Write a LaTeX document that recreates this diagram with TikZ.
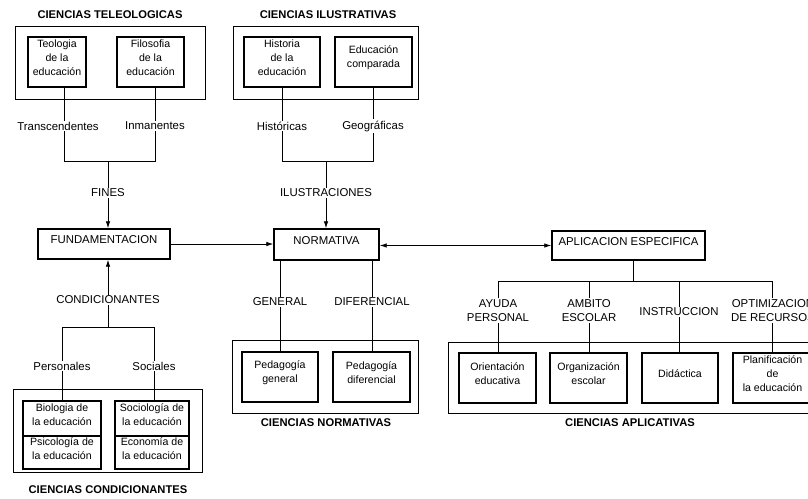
\documentclass[tikz,border=0pt]{standalone}
\usepackage{fontspec}
\setmainfont{Liberation Sans}
\usetikzlibrary{arrows.meta,fit}
\newcommand\fsn{\fontsize{11.4}{14.5}\selectfont}
\newcommand\fsx{\fontsize{10.6}{14}\selectfont}
\newcommand\fsb{\fontsize{11.2}{14}\selectfont\bfseries}
\begin{document}
\begin{tikzpicture}[x=1pt,y=-1pt,
  outerbox/.style={draw,line width=0.9pt,inner sep=0pt},
  innerbox/.style={draw,line width=1.6pt,inner sep=0pt,align=center,font=\fsx},
  mainbox/.style={draw,line width=1.4pt,inner sep=0pt,align=center,font=\fsn},
  lbl/.style={inner sep=1pt,align=center,font=\fsn},
  ttl/.style={inner sep=1pt,font=\fsb},
  conn/.style={line width=0.8pt},
  arr/.style={line width=0.8pt,-{Latex[length=7pt,width=4.5pt]}},
  darr/.style={line width=0.8pt,{Latex[length=7pt,width=4.5pt]}-{Latex[length=7pt,width=4.5pt]}}]
\useasboundingbox (0,0) rectangle (808,498);
\clip (0,0) rectangle (808,498);
\fill[white] (0,0) rectangle (808,498);

% ---------- Ciencias teleologicas ----------
\node[ttl] (t1) at (110,15) {CIENCIAS TELEOLOGICAS};
\node[outerbox,fit={(15,26) (205,99)}] (o1) {};
\node[innerbox,fit={(28,37) (86,87)}] (teo) {Teologia\\de la\\educación};
\node[innerbox,fit={(117,37) (184,87)}] (filo) {Filosofia\\de la\\educación};
\node[lbl] (trans) at (58,126) {Transcendentes};
\node[lbl] (inman) at (155,126) {Inmanentes};
\node[lbl] (fines) at (108,193) {FINES};
\coordinate (b1l) at (64,161);
\coordinate (b1r) at (155,161);
\coordinate (b1c) at (108,161);
\draw[conn] (teo.south -| b1l) -- (trans.north -| b1l);
\draw[conn] (filo.south -| b1r) -- (inman.north -| b1r);
\draw[conn] (trans.south -| b1l) -- (b1l) -- (b1r) -- (inman.south -| b1r);
\draw[conn] (b1c) -- (fines.north -| b1c);

% ---------- Fundamentacion ----------
\node[mainbox,fit={(38,229) (170,259)}] (fund) {FUNDAMENTACION};
\draw[arr] (fines.south -| b1c) -- (fund.north -| b1c);
\node[lbl] (cond) at (108,300) {CONDICIONANTES};
\draw[arr] (cond.north -| b1c) -- (fund.south -| b1c);
\coordinate (b3l) at (62,327);
\coordinate (b3r) at (154,327);
\coordinate (b3c) at (108,327);
\node[lbl] (pers) at (62,366) {Personales};
\node[lbl] (soc) at (154,366) {Sociales};
\draw[conn] (cond.south -| b3c) -- (b3c);
\draw[conn] (pers.north -| b3l) -- (b3l) -- (b3r) -- (soc.north -| b3r);

% ---------- Ciencias condicionantes ----------
\node[outerbox,fit={(13,389) (202,472)}] (o3) {};
\node[innerbox,fit={(23,401) (101,436)}] (bio) {Biologia de\\la educación};
\node[innerbox,fit={(23,436) (101,469)}] (psi) {Psicología de\\la educación};
\node[innerbox,fit={(115,401) (189,436)}] (socio) {Sociología de\\la educación};
\node[innerbox,fit={(115,436) (189,469)}] (eco) {Economía de\\la educación};
\draw[conn] (pers.south -| b3l) -- (bio.north -| b3l);
\draw[conn] (soc.south -| b3r) -- (socio.north -| b3r);
\node[ttl] (t3) at (108,490) {CIENCIAS CONDICIONANTES};

% ---------- Ciencias ilustrativas ----------
\node[ttl] (t2) at (328,15) {CIENCIAS ILUSTRATIVAS};
\node[outerbox,fit={(233,26) (418,99)}] (o2) {};
\node[innerbox,fit={(244,37) (320,87)}] (hist) {Historia\\de la\\educación};
\node[innerbox,fit={(335,37) (412,87)}] (educ) {Educación\\comparada};
\node[lbl] (histl) at (282,126) {Históricas};
\node[lbl] (geo) at (373,126) {Geográficas};
\node[lbl] (ilus) at (326,193) {ILUSTRACIONES};
\coordinate (b2l) at (282,161);
\coordinate (b2r) at (373,161);
\coordinate (b2c) at (326,161);
\draw[conn] (hist.south -| b2l) -- (histl.north -| b2l);
\draw[conn] (educ.south -| b2r) -- (geo.north -| b2r);
\draw[conn] (histl.south -| b2l) -- (b2l) -- (b2r) -- (geo.south -| b2r);
\draw[conn] (b2c) -- (ilus.north -| b2c);

% ---------- Normativa ----------
\node[mainbox,fit={(274,229) (379,260)}] (norm) {NORMATIVA};
\draw[arr] (ilus.south -| b2c) -- (norm.north -| b2c);
\draw[arr] (fund.east) -- (norm.west |- fund.east);
\node[lbl] (gen) at (280,302) {GENERAL};
\node[lbl] (dif) at (372,302) {DIFERENCIAL};
\draw[conn] (norm.south -| gen) -- (gen.north);
\draw[conn] (norm.south -| dif) -- (dif.north);
\node[outerbox,fit={(232,340) (418,413)}] (o4) {};
\node[innerbox,fit={(242,352) (318,402)}] (pg) {Pedagogía\\general};
\node[innerbox,fit={(333,352) (410,402)}] (pd) {Pedagogía\\diferencial};
\draw[conn] (gen.south) -- (pg.north -| gen);
\draw[conn] (dif.south) -- (pd.north -| dif);
\node[ttl] (t4) at (326,423) {CIENCIAS NORMATIVAS};

% ---------- Aplicacion especifica ----------
\node[mainbox,fit={(552,231) (705,260)}] (apl) {APLICACION ESPECIFICA};
\draw[darr] (norm.east |- apl.west) -- (apl.west);
\coordinate (b5c) at (633,281);
\coordinate (b5a) at (498,281);
\coordinate (b5b) at (589,281);
\coordinate (b5i) at (679,281);
\coordinate (b5o) at (772,281);
\node[lbl] (ayu) at (498,310.5) {AYUDA\\PERSONAL};
\node[lbl] (amb) at (589,310.5) {AMBITO\\ESCOLAR};
\node[lbl] (ins) at (679,312) {INSTRUCCION};
\node[lbl] (opt) at (773,310.5) {OPTIMIZACION\\DE RECURSOS};
\draw[conn] (apl.south -| b5c) -- (b5c);
\draw[conn] (ayu.north -| b5a) -- (b5a) -- (b5o) -- (opt.north -| b5o);
\draw[conn] (b5b) -- (amb.north -| b5b);
\draw[conn] (b5i) -- (ins.north -| b5i);
\node[outerbox,fit={(448,342) (840,413)}] (o5) {};
\node[innerbox,fit={(459,353) (536,403)}] (ori) {Orientación\\educativa};
\node[innerbox,fit={(550,353) (627,403)}] (org) {Organización\\escolar};
\node[innerbox,fit={(642,353) (718,403)}] (did) {Didáctica};
\node[innerbox,fit={(733,353) (812,403)}] (plan) {Planificación\\de\\la educación};
\draw[conn] (ayu.south -| b5a) -- (ori.north -| b5a);
\draw[conn] (amb.south -| b5b) -- (org.north -| b5b);
\draw[conn] (ins.south -| b5i) -- (did.north -| b5i);
\draw[conn] (opt.south -| b5o) -- (plan.north -| b5o);
\node[ttl] (t5) at (630,423) {CIENCIAS APLICATIVAS};
\end{tikzpicture}
\end{document}
